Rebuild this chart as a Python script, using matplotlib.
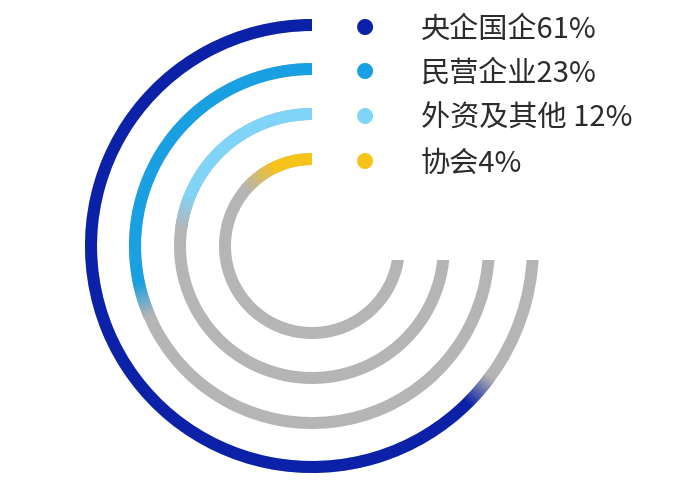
import numpy as np
import matplotlib
matplotlib.use("Agg")
import matplotlib.pyplot as plt
from matplotlib.colors import to_rgb
from matplotlib.patches import Polygon

plt.rcParams['font.family'] = ['Noto Sans CJK SC', 'DejaVu Sans']

# ---- data ----
categories = ["央企国企", "民营企业", "外资及其他", "协会"]
values = [61, 23, 12, 4]                       # percent
labels = ["央企国企61%", "民营企业23%", "外资及其他 12%", "协会4%"]
colors = ["#0b21a8", "#18a0e2", "#7fd4f8", "#f6c419"]

# ---- style / layout ----
W, H = 676, 500
cx, cy = 312, 246            # ring centre in pixels (from top-left)
R = 240                      # radial limit of the polar axes (pixels)
radii = [221, 177, 132, 87]
thick = 12
track_color = "#b5b5b5"
cut_y = 260                  # gray tracks are cut horizontally at this pixel row
px_per_pct = 14.5            # arc length (px) per percent
fade_len = 34                # length of colour->gray fade in px

fig = plt.figure(figsize=(W / 100, H / 100), dpi=100)
fig.patch.set_facecolor("white")
ax = fig.add_axes([(cx - R) / W, (H - cy - R) / H, 2 * R / W, 2 * R / H],
                  projection="polar")
ax.set_theta_zero_location("N")
ax.set_theta_direction(1)
ax.set_ylim(0, R)
ax.axis("off")

# clip region: everything except the upper-right quadrant above the cut line
clip = Polygon([(0, 0), (1, 0), (1, 1 - cut_y / H), (cx / W, 1 - cut_y / H),
                (cx / W, 1), (0, 1)], closed=True, transform=fig.transFigure,
               facecolor="none", edgecolor="none")


def arc(t0, t1, r, color):
    bars = ax.bar((t0 + t1) / 2, thick, width=(t1 - t0), bottom=r - thick / 2,
                  color=color, linewidth=0, align="center")
    for b in bars:
        b.set_clip_path(clip)


for val, r, col in zip(values, radii, colors):
    # gray track: from top, counter-clockwise round to 3 o'clock
    arc(0, np.deg2rad(272), r, track_color)
    # coloured part, arc length proportional to value
    t_val = val * px_per_pct / r
    f = fade_len / r
    t_solid = max(t_val - f / 2, 0)
    arc(0, t_solid + 0.002, r, col)
    c0 = np.array(to_rgb(col))
    c1 = np.array(to_rgb(track_color))
    n = 40
    edges = np.linspace(t_solid, t_val + f / 2, n + 1)
    for i in range(n):
        a = (i + 0.5) / n
        c = c0 * (1 - a) + c1 * a
        arc(edges[i], edges[i + 1] + 0.002, r, tuple(c))

# ---- legend ----
for lab, r, col in zip(labels, radii, colors):
    y_px = cy - r
    fig.text(365 / W, 1 - (y_px + 1) / H, "●", color=col, fontsize=15,
             ha="center", va="center", family=["DejaVu Sans"])
    fig.text(421 / W, 1 - (y_px + 5) / H, lab, color="#2b2b2b", fontsize=21,
             ha="left", va="center")

fig.savefig("out.png", dpi=100, facecolor="white")
